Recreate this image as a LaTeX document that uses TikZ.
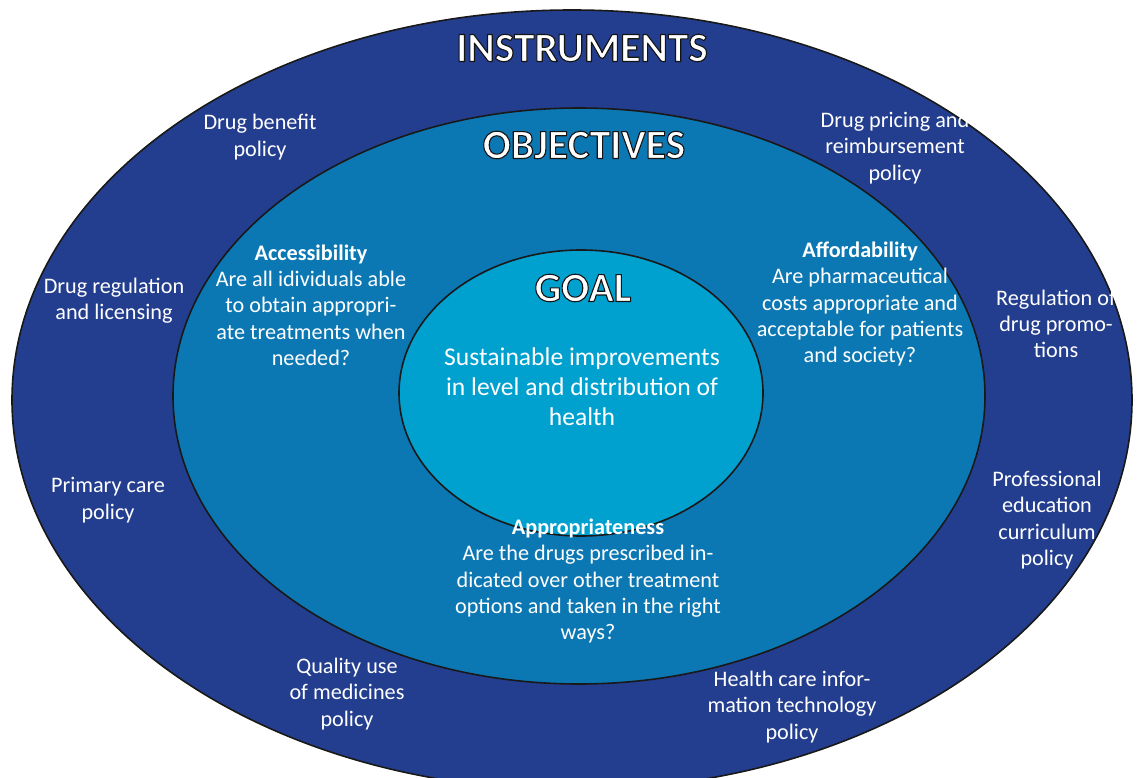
\documentclass[tikz,border=0pt]{standalone}
\usepackage{fontspec}
\setmainfont{Carlito}
\definecolor{outerblue}{HTML}{233E8E}
\definecolor{midblue}{HTML}{0C78B3}
\definecolor{innerblue}{HTML}{00A0CF}
\newcommand{\outlined}[1]{\special{pdf:literal direct 2 Tr 1.1 w 0.08 0.08 0.08 RG 1 j}\textbf{#1}\special{pdf:literal direct 0 Tr}}
\begin{document}
\begin{tikzpicture}[x=1pt,y=-1pt,
  ring/.style={draw=black!90,line width=1.6pt},
  heading/.style={text=white,font=\fontsize{41.5}{44}\selectfont,inner sep=0pt},
  label/.style={text=white,align=center,font=\fontsize{22.2}{26.3}\selectfont,inner sep=0pt},
  goaltext/.style={text=white,align=center,font=\fontsize{25.6}{30}\selectfont,inner sep=0pt}]
\useasboundingbox (0,0) rectangle (1139,778);
\clip (0,0) rectangle (1139,778);
% rings
\draw[ring,fill=outerblue] (572,400) ellipse [x radius=560pt, y radius=390pt];
\draw[ring,fill=midblue] (579,396) ellipse [x radius=406pt, y radius=288pt];
\draw[ring,fill=innerblue] (581,393) ellipse [x radius=182pt, y radius=143pt];
% goal
\node[goaltext] (goalt) at (582,387) {Sustainable improvements\\in level and distribution of\\health};
% objectives
\node[label] (access) at (311,305) {\textbf{Accessibility}\\Are all idividuals able\\to obtain appropri-\\ate treatments when\\needed?};
\node[label] (afford) at (860,304) {\textbf{Affordability}\\Are pharmaceutical\\costs appropriate and\\acceptable for patients\\and society?};
\node[label] (approp) at (588,581) {\textbf{Appropriateness}\\Are the drugs prescribed in-\\dicated over other treatment\\options and taken in the right\\ways?};
% instruments
\node[label] (benefit) at (260,137) {Drug benefit\\policy};
\node[label] (pricing) at (895,148) {Drug pricing and\\reimbursement\\policy};
\node[label] (regul) at (114,301) {Drug regulation\\and licensing};
\node[label] (promo) at (1056,324) {Regulation of\\drug promo-\\tions};
\node[label] (primary) at (108,500) {Primary care\\policy};
\node[label] (prof) at (1047,520) {Professional\\education\\curriculum\\policy};
\node[label] (quality) at (347,694) {Quality use\\of medicines\\policy};
\node[label] (hcit) at (792,707) {Health care infor-\\mation technology\\policy};
% headings
\node[heading] (instr) at (582,48) {\outlined{INSTRUMENTS}};
\node[heading] (obj) at (584,145) {\outlined{OBJECTIVES}};
\node[heading] (goal) at (583,288) {\outlined{GOAL}};
\end{tikzpicture}
\end{document}
